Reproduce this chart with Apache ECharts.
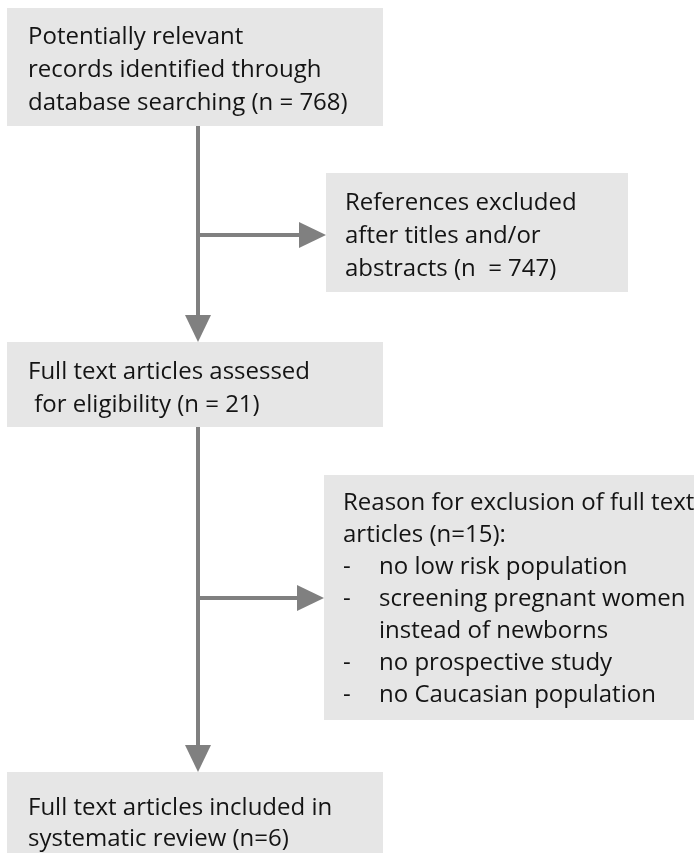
<!DOCTYPE html>
<html>
<head>
<meta charset="utf-8">
<script src="https://cdn.jsdelivr.net/npm/echarts@6/dist/echarts.min.js"></script>
<style>
  html, body { margin: 0; padding: 0; background: #fff; }
  #chart { width: 700px; height: 853px; }
</style>
</head>
<body>
<div id="chart"></div>
<script>
// 各步骤的数量
const identifiedCount = 768;
const excludedTitleCount = 747;
const assessedCount = 21;
const excludedFullCount = 15;
const includedCount = 6;

// 每个框里的文字（bullet 行以 "- " 开头，缩进行以 "  " 开头）
const boxLines = [
  ['Potentially relevant', 'records identified through', 'database searching (n = ' + identifiedCount + ')'],
  ['References excluded', 'after titles and/or', 'abstracts (n  = ' + excludedTitleCount + ')'],
  ['Full text articles assessed', ' for eligibility (n = ' + assessedCount + ')'],
  ['Reason for exclusion of full text', 'articles (n=' + excludedFullCount + '):',
   '- no low risk population', '- screening pregnant women', '  instead of newborns',
   '- no prospective study', '- no Caucasian population'],
  ['Full text articles included in', 'systematic review (n=' + includedCount + ')']
];

// 框的位置（画布坐标）
const boxLayout = [
  { x0: 7, y0: 8, x1: 383, y1: 126, tx: 28, ty: 37, lh: 33 },
  { x0: 326, y0: 173, x1: 628, y1: 292, tx: 345, ty: 203, lh: 33 },
  { x0: 7, y0: 342, x1: 383, y1: 427, tx: 28, ty: 372, lh: 33 },
  { x0: 324, y0: 475, x1: 694, y1: 720, tx: 343, ty: 503, lh: 32 },
  { x0: 7, y0: 772, x1: 383, y1: 860, tx: 28, ty: 808, lh: 31 }
];

// 箭头路径，最后一点是箭头尖
const arrowPaths = [
  [[198, 126], [198, 342]],
  [[198, 235], [326, 235]],
  [[198, 427], [198, 772]],
  [[198, 598], [324, 598]]
];

const FONT = '24px "Open Sans"';
const TEXT_COLOR = '#141414';
const BOX_COLOR = '#e6e6e6';
const ARROW_COLOR = '#808080';
const BULLET_INDENT = 36;

const chart = echarts.init(document.getElementById('chart'), null, { renderer: 'canvas' });

function renderBox(params, api) {
  const idx = api.value(0);
  const b = boxLayout[idx];
  const p0 = api.coord([b.x0, b.y0]);
  const p1 = api.coord([b.x1, b.y1]);
  const children = [{
    type: 'rect',
    shape: { x: p0[0], y: p0[1], width: p1[0] - p0[0], height: p1[1] - p0[1] },
    style: { fill: BOX_COLOR }
  }];
  boxLines[idx].forEach((line, i) => {
    const pt = api.coord([b.tx, b.ty + i * b.lh]);
    let text = line;
    let x = pt[0];
    if (line.startsWith('- ')) {
      children.push({
        type: 'text',
        style: { text: '-', x: x, y: pt[1], font: FONT, fill: TEXT_COLOR, align: 'left', verticalAlign: 'middle' }
      });
      text = line.slice(2);
      x += BULLET_INDENT;
    } else if (line.startsWith('  ')) {
      text = line.slice(2);
      x += BULLET_INDENT;
    }
    children.push({
      type: 'text',
      style: { text: text, x: x, y: pt[1], font: FONT, fill: TEXT_COLOR, align: 'left', verticalAlign: 'middle' }
    });
  });
  return { type: 'group', children: children };
}

function renderArrow(params, api) {
  const path = arrowPaths[api.value(0)].map(p => api.coord(p));
  const tip = path[path.length - 1];
  const prev = path[path.length - 2];
  const dx = tip[0] - prev[0], dy = tip[1] - prev[1];
  const len = Math.sqrt(dx * dx + dy * dy);
  const ux = dx / len, uy = dy / len;
  const headLen = 27, headHalf = 13;
  const base = [tip[0] - ux * headLen, tip[1] - uy * headLen];
  const line = path.slice(0, -1).concat([base]);
  return {
    type: 'group',
    children: [
      { type: 'polyline', shape: { points: line }, style: { stroke: ARROW_COLOR, lineWidth: 4, fill: null } },
      {
        type: 'polygon',
        shape: { points: [tip, [base[0] - uy * headHalf, base[1] + ux * headHalf], [base[0] + uy * headHalf, base[1] - ux * headHalf]] },
        style: { fill: ARROW_COLOR }
      }
    ]
  };
}

chart.setOption({
  animation: false,
  grid: { left: 0, right: 0, top: 0, bottom: 0 },
  xAxis: { type: 'value', min: 0, max: 700, show: false },
  yAxis: { type: 'value', min: 0, max: 853, inverse: true, show: false },
  series: [
    {
      type: 'custom',
      renderItem: renderArrow,
      data: arrowPaths.map((p, i) => [i]),
      silent: true,
      clip: false
    },
    {
      type: 'custom',
      renderItem: renderBox,
      data: boxLines.map((l, i) => [i]),
      silent: true,
      clip: true
    }
  ]
});
</script>
</body>
</html>
